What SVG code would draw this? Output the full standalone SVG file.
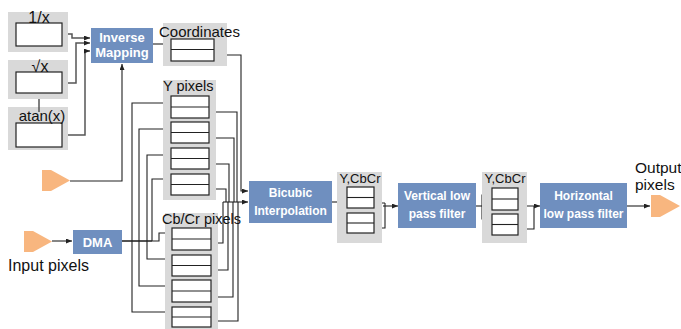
<svg xmlns="http://www.w3.org/2000/svg" width="681" height="329" viewBox="0 0 681 329">
<defs>
<marker id="ah" markerUnits="userSpaceOnUse" markerWidth="6" markerHeight="5" refX="6" refY="2.5" orient="auto">
<path d="M0,0 L6,2.5 L0,5 z" fill="#222"/>
</marker>
<style>
.bg{fill:#d9d9d9}
.bx{fill:#fff;stroke:#222;stroke-width:1.2}
.blue{fill:#6f8fbf}
.wt{font-family:"Liberation Sans",Arial,sans-serif;font-weight:bold;fill:#fff;text-anchor:middle}
.lb{font-family:"Liberation Sans",Arial,sans-serif;fill:#111}
.ln{fill:none;stroke:#222;stroke-width:1.1}
.lg{fill:none;stroke:#555;stroke-width:1.5}
.arr{marker-end:url(#ah)}
.tri{fill:#f8b67f}
</style>
</defs>
<rect width="681" height="329" fill="#fff"/>

<g id="connectors">
<path class="lg arr" d="M62,34 H72 V38 H90"/>
<path class="lg arr" d="M62,83 H76 V43 H90"/>
<path class="lg arr" d="M62,135 H85 V51 H90"/>
<path class="lg" d="M39,99 V112"/>
<path class="ln arr" d="M70,181 H122 V64"/>
<path class="ln arr" d="M153,44 H171"/>
<path class="ln arr" d="M52,241 H72"/>
<path class="ln" d="M122,241 H152" stroke-width="2"/>
<path class="ln arr" d="M122,241 H159 V233 H171"/>
<path class="ln arr" d="M132,241 V103 H171"/>
<path class="ln arr" d="M132,241 V312 H172"/>
<path class="ln arr" d="M139,241 V129 H171"/>
<path class="ln arr" d="M139,241 V286 H172"/>
<path class="ln arr" d="M147,241 V155 H171"/>
<path class="ln arr" d="M147,241 V259 H172"/>
<path class="ln arr" d="M152,241 V179 H171"/>
<path class="ln" d="M209,112 H237 V202"/>
<path class="ln" d="M209,138 H234 V202"/>
<path class="ln" d="M209,164 H229 V202"/>
<path class="ln" d="M209,189 H226 V202"/>
<path class="ln" d="M211,243 H223 V202"/>
<path class="ln" d="M211,270 H228 V202"/>
<path class="ln" d="M211,297 H233 V202"/>
<path class="ln" d="M211,321 H238 V202"/>
<path class="ln arr" d="M223,202 H248"/>
<path class="ln arr" d="M214,55 H241 V191 H248"/>
<path class="ln" d="M332,202 H338" stroke-width="2"/>
<path class="ln arr" d="M338,202 V192 H347"/>
<path class="ln arr" d="M338,202 V218 H347"/>
<path class="ln" d="M374,203 H385 M374,228 H385 V203"/>
<path class="ln arr" d="M383,206 H398" stroke-width="1.6"/>
<path class="ln" d="M476,206 H482" stroke-width="2"/>
<path class="ln arr" d="M482,206 V195 H492"/>
<path class="ln arr" d="M482,206 V219 H492"/>
<path class="ln" d="M518,206 H534 M518,229 H534 V206"/>
<path class="ln arr" d="M534,206 H540"/>
<path class="ln arr" d="M627,206 H650"/>
</g>

<g id="recip">
<rect class="bg" x="8" y="12" width="60" height="40"/>
<rect class="bx" x="16" y="23" width="46" height="23"/>
<text class="lb" x="39" y="23" font-size="16" text-anchor="middle">1/x</text>
</g>
<g id="sqrt">
<rect class="bg" x="8" y="60" width="60" height="39"/>
<rect class="bx" x="16" y="72" width="46" height="21"/>
<text class="lb" x="40" y="72" font-size="16" text-anchor="middle">√x</text>
</g>
<g id="atan">
<rect class="bg" x="8" y="107" width="60" height="43"/>
<path class="lg" d="M39,107 V112"/>
<rect class="bx" x="16" y="123" width="46" height="24"/>
<text class="lb" x="42" y="121" font-size="15" text-anchor="middle">atan(x)</text>
</g>

<g id="inverse-mapping">
<rect class="blue" x="91" y="28" width="62" height="35"/>
<text class="wt" x="122" y="42" font-size="13">Inverse</text>
<text class="wt" x="122" y="57" font-size="13">Mapping</text>
</g>

<g id="coordinates">
<rect class="bg" x="163" y="23" width="64" height="43"/>
<text class="lb" x="159" y="37" font-size="15">Coordinates</text>
<rect class="bx" x="171" y="39" width="43" height="22"/>
<path class="ln" d="M171,49.5 H214"/>
</g>

<g id="in-trigger">
<polygon class="tri" points="42,170 51,170 70,180.5 51,191 42,191"/>
</g>

<g id="input">
<polygon class="tri" points="24,231 33,231 52,241.5 33,252 24,252"/>
<text class="lb" x="8" y="271" font-size="16">Input pixels</text>
</g>

<g id="dma">
<rect class="blue" x="73" y="230" width="49" height="24"/>
<text class="wt" x="97.5" y="246.5" font-size="13">DMA</text>
</g>

<g id="y-pixels">
<rect class="bg" x="163" y="80" width="53" height="120"/>
<text class="lb" x="163" y="91" font-size="14.5">Y pixels</text>
<rect class="bx" x="171" y="96" width="38" height="22"/><path class="ln" d="M171,107 H209"/>
<rect class="bx" x="171" y="122" width="38" height="21"/><path class="ln" d="M171,132.5 H209"/>
<rect class="bx" x="171" y="148" width="38" height="21"/><path class="ln" d="M171,158.5 H209"/>
<rect class="bx" x="171" y="174" width="38" height="21"/><path class="ln" d="M171,184.5 H209"/>
</g>

<g id="cbcr-pixels">
<rect class="bg" x="165" y="213" width="53" height="116"/>
<text class="lb" x="162" y="224" font-size="14.5">Cb/Cr pixels</text>
<rect class="bx" x="172" y="228" width="39" height="22"/><path class="ln" d="M172,239 H211"/>
<rect class="bx" x="172" y="255" width="39" height="21"/><path class="ln" d="M172,265.5 H211"/>
<rect class="bx" x="172" y="280" width="39" height="22"/><path class="ln" d="M172,291 H211"/>
<rect class="bx" x="172" y="307" width="39" height="20"/><path class="ln" d="M172,317 H211"/>
</g>

<g id="bicubic">
<rect class="blue" x="249" y="181" width="83" height="42"/>
<text class="wt" x="290.5" y="197" font-size="12">Bicubic</text>
<text class="wt" x="290.5" y="215" font-size="12">Interpolation</text>
</g>

<g id="ycbcr1">
<rect class="bg" x="337" y="172" width="45" height="71"/>
<text class="lb" x="360" y="183" font-size="13" text-anchor="middle">Y,CbCr</text>
<rect class="bx" x="347" y="187" width="27" height="21"/><path class="ln" d="M347,197.5 H374"/>
<rect class="bx" x="347" y="213" width="27" height="20"/><path class="ln" d="M347,223 H374"/>
</g>

<g id="vlpf">
<rect class="blue" x="398" y="183" width="78" height="45"/>
<text class="wt" x="437" y="200" font-size="12">Vertical low</text>
<text class="wt" x="437" y="218" font-size="12">pass filter</text>
</g>

<g id="ycbcr2">
<rect class="bg" x="482" y="172" width="45" height="71"/>
<text class="lb" x="505" y="183" font-size="13" text-anchor="middle">Y,CbCr</text>
<rect class="bx" x="492" y="188" width="26" height="22"/><path class="ln" d="M492,199 H518"/>
<rect class="bx" x="492" y="214" width="26" height="21"/><path class="ln" d="M492,224.5 H518"/>
</g>

<g id="hlpf">
<rect class="blue" x="540" y="183" width="87" height="45"/>
<text class="wt" x="583.5" y="200" font-size="12">Horizontal</text>
<text class="wt" x="583.5" y="218" font-size="12">low pass filter</text>
</g>

<g id="output">
<polygon class="tri" points="651,195 660,195 680,206 660,217 651,217"/>
<text class="lb" x="635" y="173" font-size="15.5">Output</text>
<text class="lb" x="635" y="190" font-size="15.5">pixels</text>
</g>
</svg>
